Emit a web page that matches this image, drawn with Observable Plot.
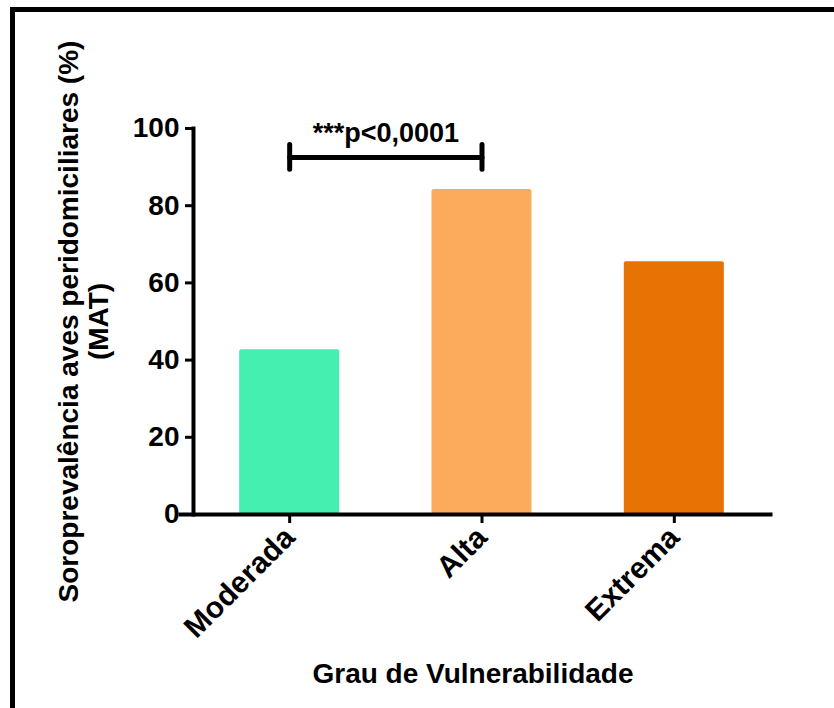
<!DOCTYPE html>
<html>
<head>
<meta charset="utf-8">
<script src="https://cdn.jsdelivr.net/npm/d3@7"></script>
<script src="https://cdn.jsdelivr.net/npm/@observablehq/plot@0.6"></script>
<style>
  html, body { margin: 0; padding: 0; background: #fff; overflow: hidden; }
  #wrap { position: relative; width: 834px; height: 708px; overflow: hidden; }
  #border { position: absolute; left: 10px; top: 7px; width: 900px; height: 800px;
            border-top: 5px solid #000; border-left: 5px solid #000; box-sizing: border-box; }
  #chart { position: absolute; left: 0; top: 0; }
  #chart svg { font-family: "Liberation Sans", Arial, sans-serif; font-weight: bold; }
</style>
</head>
<body>
<div id="wrap"><div id="border"></div><div id="chart"></div></div>
<script>
const categories = ["Moderada", "Alta", "Extrema"];
const values = [42.7, 84.2, 65.5];
const colors = ["#45EFB0", "#FCAA5B", "#E67303"];
const yTicks = [0, 20, 40, 60, 80, 100];
const bracketFrom = 0, bracketTo = 1;
const bracketY = 92.5, capLow = 89.3, capHigh = 95.7, labelY = 98.8;
const bracketLabel = "***p<0,0001";
const yLabel = "Soroprevalência aves peridomiciliares (%)\n(MAT)";
const xLabel = "Grau de Vulnerabilidade";

const data = categories.map((c, i) => ({i, c, v: values[i], color: colors[i]}));
const half = 0.26;

const chart = Plot.plot({
  width: 834,
  height: 708,
  marginTop: 128,
  marginBottom: 194,
  marginLeft: 193,
  marginRight: 64,
  style: {fontFamily: "Liberation Sans, Arial, sans-serif", fontWeight: "bold", background: "transparent"},
  x: {domain: [-0.5, categories.length - 0.5]},
  y: {domain: [0, 100]},
  marks: [
    Plot.rectY(data, {x1: d => d.i - half, x2: d => d.i + half, y1: 0, y2: "v", fill: "color", rx: 2}),
    Plot.frame({anchor: "left", strokeWidth: 4, stroke: "#000"}),
    Plot.frame({anchor: "bottom", strokeWidth: 4, stroke: "#000", insetLeft: -13}),
    Plot.axisY({ticks: yTicks, tickSize: 8, tickPadding: 6, fontSize: 28, strokeWidth: 3, label: null}),
    Plot.axisX({ticks: categories.map((c, i) => i), tickFormat: i => categories[i], tickRotate: -45,
      tickSize: 9, tickPadding: 9, fontSize: 30, strokeWidth: 3, label: null}),
    Plot.text([yLabel], {frameAnchor: "left", rotate: -90, dx: -136, textAnchor: "middle", lineAnchor: "top",
      lineHeight: 1.05, fontSize: 28, text: d => d, fill: "#000"}),
    Plot.text([xLabel], {frameAnchor: "bottom", dx: -9, dy: 160, lineAnchor: "middle",
      fontSize: 28, text: d => d, fill: "#000"}),
    Plot.line([[bracketFrom, bracketY], [bracketTo, bracketY]], {x: d => d[0], y: d => d[1], stroke: "#000", strokeWidth: 5}),
    Plot.ruleX([bracketFrom, bracketTo], {x: d => d, y1: capLow, y2: capHigh, stroke: "#000", strokeWidth: 5, strokeLinecap: "round"}),
    Plot.text([bracketLabel], {x: (bracketFrom + bracketTo) / 2, y: labelY, text: d => d, fontSize: 27, fill: "#000"})
  ]
});
document.getElementById("chart").append(chart);
</script>
</body>
</html>
